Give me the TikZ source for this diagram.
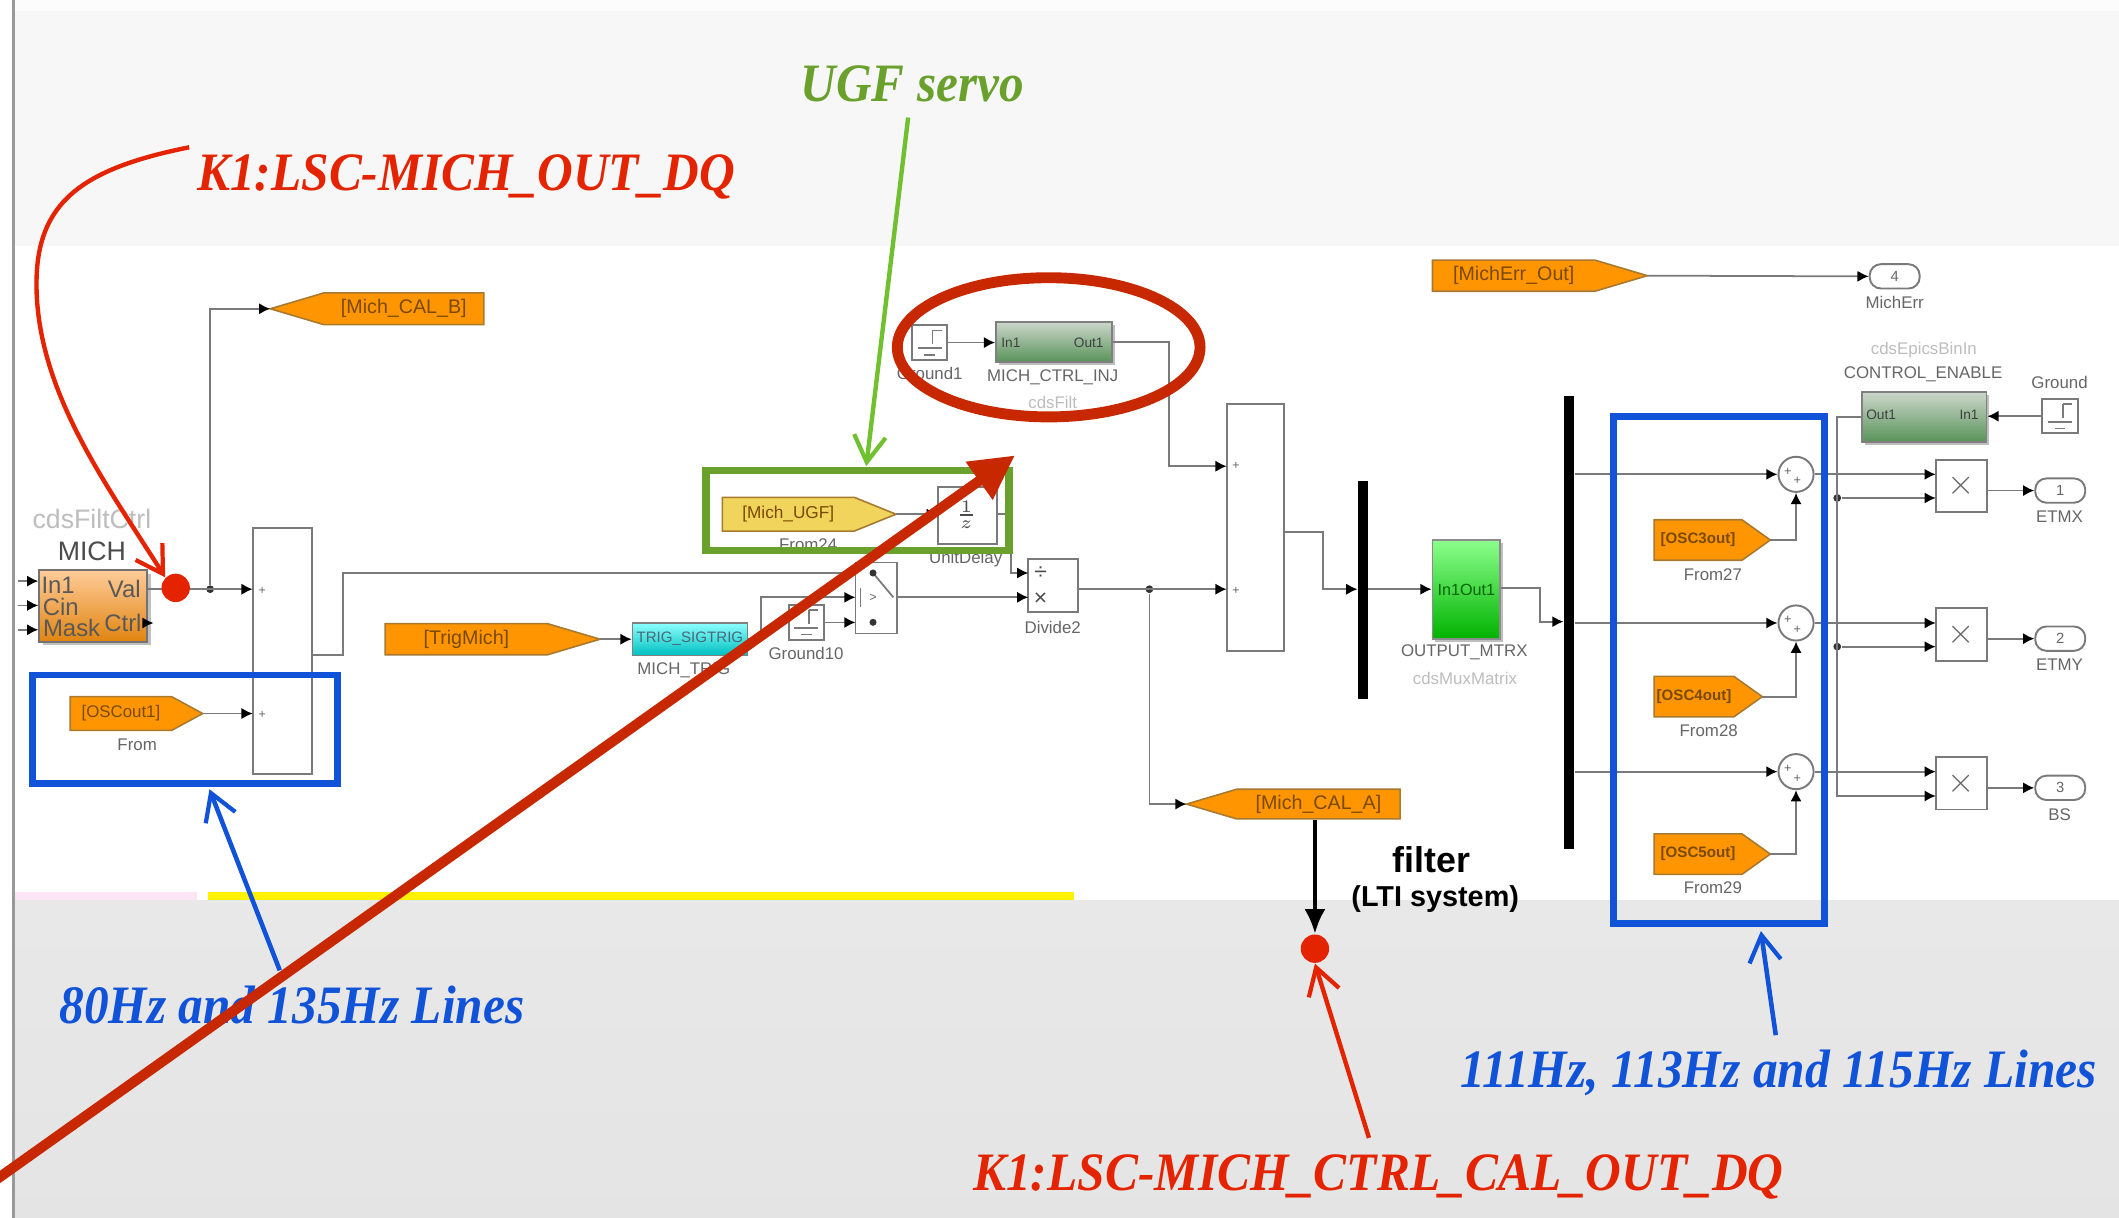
\documentclass[tikz,border=0pt]{standalone}
\usepackage{fontspec}
\setmainfont{Liberation Sans}
\newfontfamily\callfont{Liberation Serif}
\usepackage{tikz}
\usetikzlibrary{
  calc,                  % Port points on block borders
  shapes.symbols,        % Goto and From tags
  shapes.geometric,      % Ring round the injection filter
  shadows                % Block shadows
}
\usetikzlibrary{arrows.meta}

\definecolor{wiregray}{HTML}{7A7A7A}
\definecolor{labelgray}{HTML}{666666}
\definecolor{faintgray}{HTML}{BDBDBD}
\definecolor{tagorange}{HTML}{FF9500}
\definecolor{tagedge}{HTML}{A87A30}
\definecolor{tagtext}{HTML}{7A4A00}
\definecolor{tagyellow}{HTML}{F0D45C}
\definecolor{markred}{HTML}{E42400}
\definecolor{darkred}{HTML}{C82800}
\definecolor{markblue}{HTML}{1052D8}
\definecolor{markgreen}{HTML}{6AA02C}
\definecolor{leafgreen}{HTML}{70C030}
\definecolor{michtop}{HTML}{FFCC99}
\definecolor{michlow}{HTML}{E08410}

\newlength{\un}
\setlength{\un}{0.013514cm}

\tikzset{
  wire/.style={draw=wiregray, line width=0.5pt},
  feed/.style={wire, -{Latex[black, length=3.2pt, width=3.2pt]}},
  blockbox/.style={draw=wiregray, fill=white, line width=0.55pt, inner sep=0pt, outer sep=0pt},
  gototag/.style={shape=signal, signal from=nowhere, draw=tagedge, fill=tagorange, line width=0.45pt,
    inner sep=0pt, outer sep=0pt, text=tagtext, font=\fontsize{5.6}{6}\selectfont},
  blocklabel/.style={inner sep=0pt, text=labelgray, font=\fontsize{4.8}{5}\selectfont},
  faintlabel/.style={inner sep=0pt, text=faintgray, font=\fontsize{4.8}{5}\selectfont},
  porttext/.style={inner sep=0pt, text=black!75, font=\fontsize{3.9}{4}\selectfont},
  outport/.style={draw=wiregray, fill=white, rounded corners=3.2pt, line width=0.55pt, inner sep=0pt,
    minimum width=37*\un, minimum height=18*\un, font=\fontsize{4.2}{5}\selectfont, text=labelgray},
  dotmark/.style={circle, fill=black!80, inner sep=0pt, minimum size=3.2pt},
  calltext/.style={inner sep=0pt, font=\callfont\bfseries\itshape\fontsize{15.4}{16}\selectfont, transform shape},
  callhead/.style={-{Straight Barb[length=7.5pt, width=9pt, line width=1.2pt]}}
}

\newcommand{\groundmark}[1]{%
  \draw[wire] ($(#1)+(2,-9)$) -- ($(#1)+(2,1)$) ($(#1)+(2,-9)$) -- ($(#1)+(9,-9)$)
    ($(#1)+(-9,4)$) -- ($(#1)+(9,4)$) ($(#1)+(-4,9)$) -- ($(#1)+(4,9)$);}

\begin{document}
\begin{tikzpicture}[x=0.013514cm, y=-0.013514cm]
  \useasboundingbox (0,0) rectangle (1568,901);
  % backgrounds
  \fill[white] (0,0) rectangle (1568,901);
  \fill[black!3] (10,8) rectangle (1568,182);
  \fill[black!1] (10,0) rectangle (1568,8);
  \fill[top color=black!9, bottom color=black!10.5] (10,666) rectangle (1568,901);
  \fill[yellow] (154,660) rectangle (795,666);
  \fill[magenta!10] (10,660) rectangle (146,666);
  \draw[black!40, line width=0.6pt] (10,0) -- (10,901);

  % cdsFiltCtrl block
  \node (michBlk) [draw=black!55, top color=michtop, bottom color=michlow, line width=0.5pt, inner sep=0pt,
    minimum width=80*\un, minimum height=53*\un, drop shadow={shadow xshift=1pt, shadow yshift=-1pt}] at (69,448.5) {};
  \node (michType) [inner sep=0pt, text=faintgray, font=\fontsize{7.6}{8}\selectfont] at (68,384) {cdsFiltCtrl};
  \node (michName) [inner sep=0pt, text=black!70, font=\fontsize{7.6}{8}\selectfont] at (68,408) {MICH};
  \node (michIn) [inner sep=0pt, text=black!65, font=\fontsize{6.8}{7}\selectfont] at (43,433) {In1};
  \node (michCin) [inner sep=0pt, text=black!65, font=\fontsize{6.8}{7}\selectfont] at (45,449) {Cin};
  \node (michMask) [inner sep=0pt, text=black!65, font=\fontsize{6.8}{7}\selectfont] at (53,465) {Mask};
  \node (michVal) [inner sep=0pt, text=black!65, font=\fontsize{6.8}{7}\selectfont] at (92,436) {Val};
  \node (michCtrl) [inner sep=0pt, text=black!65, font=\fontsize{6.8}{7}\selectfont] at (91,461) {Ctrl};
  \coordinate (inA) at (13,430);
  \coordinate (inB) at (13,448);
  \coordinate (inC) at (13,466);
  \draw[feed] (inA) -- (inA -| michBlk.west);
  \draw[feed] (inB) -- (inB -| michBlk.west);
  \draw[feed] (inC) -- (inC -| michBlk.west);
  \draw[feed] (michBlk.east |- 0,461) -- ++(4,0);

  % first adder and tags around it
  \node (sumA) [blockbox, minimum width=44*\un, minimum height=182*\un] at (209,482) {};
  \node (plusAa) [inner sep=0pt, font=\fontsize{3.5}{4}\selectfont, text=labelgray] at (194,437) {+};
  \node (plusAb) [inner sep=0pt, font=\fontsize{3.5}{4}\selectfont, text=labelgray] at (194,529) {+};
  \node (tagCalB) [gototag, signal to=west, signal pointer angle=33, minimum height=23.5*\un, minimum width=158*\un, anchor=west] at (200,228.5) {[Mich\_CAL\_B]};
  \node (tagOscA) [gototag, signal to=east, signal pointer angle=57, minimum height=25*\un, minimum width=98*\un, anchor=east,
    font=\fontsize{4.8}{5}\selectfont] at (150,528) {[OSCout1]};
  \node (labFrom) [blocklabel] at (101.5,551) {From};
  \node (tagTrig) [gototag, signal to=east, signal pointer angle=33, minimum height=23*\un, minimum width=159*\un, anchor=east] at (444,473) {[TrigMich]};
  \coordinate (michOut) at (michBlk.east |- 0,436);
  \coordinate (splitA) at (155.5,436);
  \node (jctA) [dotmark, minimum size=2.2pt] at (splitA) {};
  \draw[feed] (michOut) -- (sumA.west |- michOut);
  \draw[feed] (jctA) -- (jctA |- tagCalB) -- (tagCalB.west);
  \draw[feed] (tagOscA.east) -- (sumA.west |- tagOscA);
  \draw[wire] (sumA.east |- 0,484.5) -- (254,484.5) -- (254,424) -- (633,424);

  % trigger path
  \node (trigBlk) [draw=black!50, top color=cyan!45, bottom color=cyan!75!black, line width=0.45pt, inner sep=0pt, text=black!60!cyan,
    minimum width=85*\un, minimum height=24*\un, font=\fontsize{4.3}{5}\selectfont] at (510.5,473) {TRIG\_SIGTRIG};
  \node (labTrig) [blocklabel] at (506,496) {MICH\_TRIG};
  \node (gndTen) [blockbox, minimum width=26*\un, minimum height=26*\un] at (596.5,460.6) {};
  \groundmark{gndTen}
  \node (labGndTen) [blocklabel] at (596.5,483.5) {Ground10};
  \node (switchBlk) [blockbox, minimum width=30.5*\un, minimum height=52.5*\un] at (648.3,442.5) {};
  \draw[wire] (646,424) -- (661,442);
  \draw[wire] (636.7,435) -- (636.7,449);
  \node (swDotA) [dotmark, minimum size=2pt] at (646,424) {};
  \node (swDotB) [dotmark, minimum size=2pt] at (646,460.5) {};
  \node (swMark) [inner sep=0pt, font=\fontsize{3.6}{4}\selectfont, text=labelgray] at (646,442) {>};
  \draw[feed] (tagTrig.east) -- (trigBlk.west);
  \draw[feed] (trigBlk.east) -- (563.3,473) -- (563.3,442) -- (switchBlk.west |- 0,442);
  \draw[feed] (gndTen.east) -- (switchBlk.west |- gndTen);

  % divide block
  \node (divideBlk) [blockbox, minimum width=37*\un, minimum height=38.7*\un] at (779.4,433.3) {};
  \node (divTop) [inner sep=0pt, font=\fontsize{6.5}{7}\selectfont, text=black!70] at (770,424) {÷};
  \node (divLow) [inner sep=0pt, font=\fontsize{6.5}{7}\selectfont, text=black!70] at (770,443) {×};
  \node (labDivide) [blocklabel] at (779,464) {Divide2};
  \draw[feed] (switchBlk.east |- 0,442) -- (divideBlk.west |- 0,442);

  % UGF servo blocks
  \node (tagUgf) [gototag, signal to=east, signal pointer angle=44, fill=tagyellow, minimum height=25*\un, minimum width=128.5*\un, anchor=east,
    font=\fontsize{4.9}{5}\selectfont] at (663,380.5) {[Mich\_UGF]};
  \node (labUgf) [blocklabel] at (598,403) {From24};
  \node (delayBlk) [blockbox, minimum width=43.6*\un, minimum height=42*\un] at (715.8,381.6) {};
  \node (delayFrac) [inner sep=0pt, text=black!70, font=\fontsize{5}{6}\selectfont] at (715,381) {$\frac{1}{z}$};
  \node (labDelay) [blocklabel] at (714.6,414) {UnitDelay};
  \draw[feed] (tagUgf.east) -- (delayBlk.west |- tagUgf);
  \draw[feed] (delayBlk.east |- 0,380.5) -- (748,380.5) -- (748,424) -- (divideBlk.west |- 0,424);

  % injection filter
  \node (gndOne) [blockbox, minimum width=26*\un, minimum height=26*\un] at (688,253.5) {};
  \groundmark{gndOne}
  \node (labGndOne) [blocklabel] at (688,276) {Ground1};
  \node (injBlk) [draw=black!50, top color=green!20!black!20, bottom color=green!35!black!65, line width=0.5pt, inner sep=0pt,
    minimum width=86*\un, minimum height=29.6*\un, drop shadow={shadow xshift=0.8pt, shadow yshift=-0.8pt}] at (780,253) {};
  \node (injIn) [porttext] at (748,254) {In1};
  \node (injOut) [porttext] at (805.6,254) {Out1};
  \node (labInj) [blocklabel] at (779,279) {MICH\_CTRL\_INJ};
  \node (labFilt) [faintlabel] at (779,298) {cdsFilt};

  % second adder
  \node (sumB) [blockbox, minimum width=42.6*\un, minimum height=183*\un] at (929,390.5) {};
  \node (plusBa) [inner sep=0pt, font=\fontsize{3.5}{4}\selectfont, text=labelgray] at (914.5,345) {+};
  \node (plusBb) [inner sep=0pt, font=\fontsize{3.5}{4}\selectfont, text=labelgray] at (914.5,437) {+};
  \node (jctB) [dotmark, minimum size=2.2pt] at (850.5,436) {};
  \node (tagCalA) [gototag, signal to=west, signal pointer angle=33, minimum height=22*\un, minimum width=158*\un, anchor=west] at (878,595) {[Mich\_CAL\_A]};
  \draw[feed] (gndOne.east) -- (injBlk.west |- gndOne);
  \draw[feed] (injBlk.east) -- (865,253) -- (865,345) -- (sumB.west |- 0,345);
  \draw[feed] (divideBlk.east |- 0,436) -- (sumB.west |- 0,436);
  \draw[feed] (jctB) -- (jctB |- tagCalA) -- (tagCalA.west);

  % matrix and bars
  \node (barA) [fill=black, inner sep=0pt, minimum width=7*\un, minimum height=161*\un] at (1008.5,436.5) {};
  \node (matrixBlk) [draw=black!45, top color=green!45!white, bottom color=green!70!black, line width=0.5pt, inner sep=0pt,
    minimum width=50*\un, minimum height=73.4*\un, text=black!60!green, font=\fontsize{4.6}{5}\selectfont,
    drop shadow={shadow xshift=0.8pt, shadow yshift=-0.8pt}] at (1085,436.3) {In1Out1};
  \node (labMatrix) [blocklabel] at (1083.5,483) {OUTPUT\_MTRX};
  \node (labMux) [faintlabel] at (1084,502) {cdsMuxMatrix};
  \node (barB) [fill=black, inner sep=0pt, minimum width=7.5*\un, minimum height=335.5*\un] at (1161.2,460.8) {};
  \draw[feed] (sumB.east |- 0,393.5) -- (979,393.5) -- (979,436) -- (barA.west |- 0,436);
  \draw[feed] (barA.east |- 0,436) -- (matrixBlk.west |- 0,436);
  \draw[feed] (matrixBlk.east |- 0,435) -- (1139.5,435) -- (1139.5,460) -- (barB.west |- 0,460);

  % osc adders
  \node (addX) [draw=wiregray, fill=white, circle, inner sep=0pt, minimum size=26*\un, line width=0.55pt] at (1329,351) {};
  \node (addY) [draw=wiregray, fill=white, circle, inner sep=0pt, minimum size=26*\un, line width=0.55pt] at (1329,461) {};
  \node (addZ) [draw=wiregray, fill=white, circle, inner sep=0pt, minimum size=26*\un, line width=0.55pt] at (1329,571) {};
  \node (plusXa) [inner sep=0pt, font=\fontsize{3.6}{4}\selectfont, text=labelgray] at (1323,349) {+};
  \node (plusXb) [inner sep=0pt, font=\fontsize{3.6}{4}\selectfont, text=labelgray] at (1330,356) {+};
  \node (plusYa) [inner sep=0pt, font=\fontsize{3.6}{4}\selectfont, text=labelgray] at (1323,459) {+};
  \node (plusYb) [inner sep=0pt, font=\fontsize{3.6}{4}\selectfont, text=labelgray] at (1330,466) {+};
  \node (plusZa) [inner sep=0pt, font=\fontsize{3.6}{4}\selectfont, text=labelgray] at (1323,569) {+};
  \node (plusZb) [inner sep=0pt, font=\fontsize{3.6}{4}\selectfont, text=labelgray] at (1330,576) {+};
  \node (tagOscC) [gototag, signal to=east, signal pointer angle=71, minimum height=30*\un, minimum width=86*\un, anchor=east,
    font=\fontsize{4.3}{5}\selectfont\bfseries] at (1310,399.6) {[OSC3out]};
  \node (tagOscD) [gototag, signal to=east, signal pointer angle=71, minimum height=30*\un, minimum width=80*\un, anchor=east,
    font=\fontsize{4.3}{5}\selectfont\bfseries] at (1304,515.5) {[OSC4out]};
  \node (tagOscE) [gototag, signal to=east, signal pointer angle=71, minimum height=30*\un, minimum width=86*\un, anchor=east,
    font=\fontsize{4.3}{5}\selectfont\bfseries] at (1310,632) {[OSC5out]};
  \node (labFromC) [blocklabel] at (1267.5,425) {From27};
  \node (labFromD) [blocklabel] at (1264.4,541) {From28};
  \node (labFromE) [blocklabel] at (1267.5,657) {From29};
  \draw[feed] (barB.east |- addX) -- (addX.west);
  \draw[feed] (barB.east |- addY) -- (addY.west);
  \draw[feed] (barB.east |- addZ) -- (addZ.west);
  \draw[feed] (tagOscC.east) -- (addX.south |- tagOscC) -- (addX.south);
  \draw[feed] (tagOscD.east) -- (addY.south |- tagOscD) -- (addY.south);
  \draw[feed] (tagOscE.east) -- (addZ.south |- tagOscE) -- (addZ.south);

  % output products
  \node (enableBlk) [draw=black!50, top color=green!20!black!20, bottom color=green!35!black!65, line width=0.5pt, inner sep=0pt,
    minimum width=92*\un, minimum height=37*\un, drop shadow={shadow xshift=0.8pt, shadow yshift=-0.8pt}] at (1424,308.5) {};
  \node (enableOut) [porttext] at (1392,307) {Out1};
  \node (enableIn) [porttext] at (1457,307) {In1};
  \node (labEpics) [faintlabel] at (1423.6,259) {cdsEpicsBinIn};
  \node (labEnable) [blocklabel] at (1423,277) {CONTROL\_ENABLE};
  \node (gndMain) [blockbox, minimum width=26.5*\un, minimum height=25.5*\un] at (1524.3,308) {};
  \groundmark{gndMain}
  \node (labGnd) [blocklabel] at (1524,283) {Ground};
  \node (prodX) [blockbox, minimum width=37.6*\un, minimum height=38.6*\un, text=labelgray] at (1451.2,359.7) {$\times$};
  \node (prodY) [blockbox, minimum width=37.6*\un, minimum height=38.6*\un, text=labelgray] at (1451.2,469.5) {$\times$};
  \node (prodZ) [blockbox, minimum width=37.6*\un, minimum height=38.6*\un, text=labelgray] at (1451.2,579.7) {$\times$};
  \node (portX) [outport] at (1524.5,363) {1};
  \node (portY) [outport] at (1524.5,472.6) {2};
  \node (portZ) [outport] at (1524.5,583) {3};
  \node (labEtmx) [blocklabel] at (1524,382.5) {ETMX};
  \node (labEtmy) [blocklabel] at (1524,492) {ETMY};
  \node (labBs) [blocklabel] at (1524,603) {BS};
  \node (jctX) [dotmark, minimum size=2.2pt] at (1359.5,368.5) {};
  \node (jctY) [dotmark, minimum size=2.2pt] at (1359.5,478.5) {};
  \draw[feed] (gndMain.west) -- (enableBlk.east |- gndMain);
  \draw[feed] (enableBlk.west) -- (1359.5,308.5) -- (1359.5,589) -- (prodZ.west |- 0,589);
  \draw[feed] (jctX) -- (prodX.west |- jctX);
  \draw[feed] (jctY) -- (prodY.west |- jctY);
  \draw[feed] (addX.east) -- (prodX.west |- addX);
  \draw[feed] (addY.east) -- (prodY.west |- addY);
  \draw[feed] (addZ.east) -- (prodZ.west |- addZ);
  \draw[feed] (prodX.east |- portX) -- (portX.west);
  \draw[feed] (prodY.east |- portY) -- (portY.west);
  \draw[feed] (prodZ.east |- portZ) -- (portZ.west);

  % error output
  \node (tagErr) [gototag, signal to=east, signal pointer angle=33, minimum height=23*\un, minimum width=159*\un, anchor=east] at (1219,204) {[MichErr\_Out]};
  \node (portErr) [outport] at (1402,204.5) {4};
  \node (labErr) [blocklabel] at (1402,224) {MichErr};
  \draw[feed] (tagErr.east) -- (portErr.west);

  % marks on top of the model
  \node (dotOut) [circle, fill=markred, inner sep=0pt, minimum size=21*\un] at (130,435) {};
  \node (dotCal) [circle, fill=markred, inner sep=0pt, minimum size=21*\un] at (973,702) {};
  \node (boxOscA) [draw=markblue, line width=1.95pt, inner sep=0pt, minimum width=226*\un, minimum height=80*\un] at (137,539.5) {};
  \node (boxOscB) [draw=markblue, line width=1.95pt, inner sep=0pt, minimum width=156*\un, minimum height=375*\un] at (1272,496) {};
  \node (boxUgf) [draw=markgreen, line width=2.1pt, inner sep=0pt, minimum width=224*\un, minimum height=59.5*\un] at (634.5,377.7) {};
  \node (ringInj) [draw=darkred, ellipse, line width=3.1pt, inner sep=0pt, minimum width=224*\un, minimum height=103*\un] at (776,257) {};

  % call-outs
  \node (callOut) [calltext, text=markred, xscale=0.913] at (345,131) {K1:LSC-MICH\_OUT\_DQ};
  \node (callUgf) [calltext, text=markgreen, xscale=0.91] at (675,62) {UGF servo};
  \node (callLow) [calltext, text=markblue, xscale=0.912] at (216,744) {80Hz and 135Hz Lines};
  \node (callHigh) [calltext, text=markblue, xscale=0.915] at (1316,794) {111Hz, 113Hz and 115Hz Lines};
  \node (callCal) [calltext, text=markred, xscale=0.914] at (1020,871) {K1:LSC-MICH\_CTRL\_CAL\_OUT\_DQ};
  \node (filterText) [inner sep=0pt, font=\bfseries\fontsize{10.2}{11}\selectfont] at (1059,636) {filter};
  \node (ltiText) [inner sep=0pt, font=\bfseries\fontsize{8.2}{9}\selectfont] at (1062,665) {(LTI system)};

  \coordinate (curveStart) at (140,109);
  \coordinate (ugfStart) at (672,87);
  \coordinate (lowStart) at (207,718);
  \coordinate (highStart) at (1314,766);
  \coordinate (calStart) at (1013,842);
  \coordinate (calTop) at (973,607);
  \coordinate (bigStart) at (-10,878);
  \coordinate (bigTip) at (751,337);
  \draw[callhead, draw=markred, line width=1.25pt] (curveStart) .. controls (60,125) and (27,150) .. (27,210)
    .. controls (27,290) and (80,360) .. (dotOut.north west);
  \draw[callhead, draw=leafgreen, line width=1.25pt] (ugfStart) -- (641,345);
  \draw[callhead, draw=markblue, line width=1.3pt] (lowStart) -- (155,584);
  \draw[callhead, draw=markblue, line width=1.3pt] (highStart) -- (1303,689);
  \draw[callhead, draw=markred, line width=1.25pt] (calStart) -- (dotCal.south);
  \draw[black, line width=1.2pt, -{Latex[length=7pt, width=6pt]}] (calTop) -- (dotCal.north);
  \draw[darkred, line width=2.9pt, -{Triangle[length=12.5pt, width=12.5pt]}] (bigStart) -- (bigTip);
\end{tikzpicture}
\end{document}
